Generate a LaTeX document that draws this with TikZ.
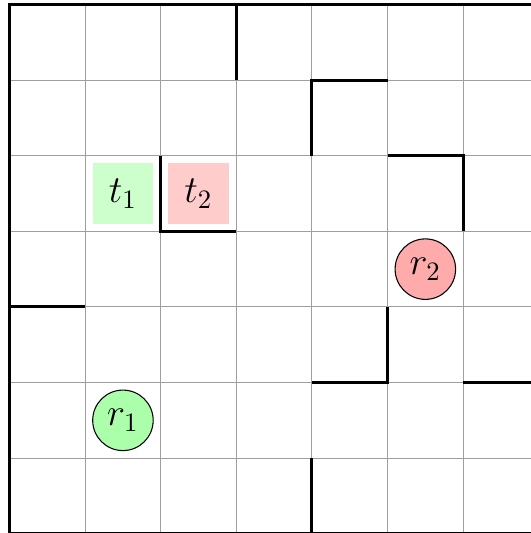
\documentclass[tikz,border=0pt]{standalone}
\begin{document}
\begin{tikzpicture}[x=1cm,y=1cm,
  gridline/.style={draw=gray!75, line width=0.4pt},
  wall/.style={draw=black, line width=1.1pt},
  target/.style={minimum size=0.8cm, inner sep=0pt, font=\Large},
  robot/.style={circle, draw=black, line width=0.4pt, minimum size=0.8cm, inner sep=0pt, font=\Large}]
\useasboundingbox (-0.126,0.01) rectangle (6.885,7.06);
\draw[gridline] (0,0) grid (7,7);
% targets
\node[target, fill=green!20] (t1) at (1.5,4.5) {$t_1$};
\node[target, fill=red!20] (t2) at (2.5,4.5) {$t_2$};
% robots
\node[robot, fill=green!33] (r1) at (1.5,1.5) {$r_1$};
\node[robot, fill=red!33] (r2) at (5.5,3.5) {$r_2$};
% walls
\draw[wall] (0,0) rectangle (7,7);
\draw[wall] (3,7) -- (3,6);
\draw[wall] (4,5) -- (4,6) -- (5,6);
\draw[wall] (5,5) -- (6,5) -- (6,4);
\draw[wall] (2,5) -- (2,4) -- (3,4);
\draw[wall] (0,3) -- (1,3);
\draw[wall] (5,3) -- (5,2) -- (4,2);
\draw[wall] (6,2) -- (7,2);
\draw[wall] (4,1) -- (4,0);
\end{tikzpicture}
\end{document}
